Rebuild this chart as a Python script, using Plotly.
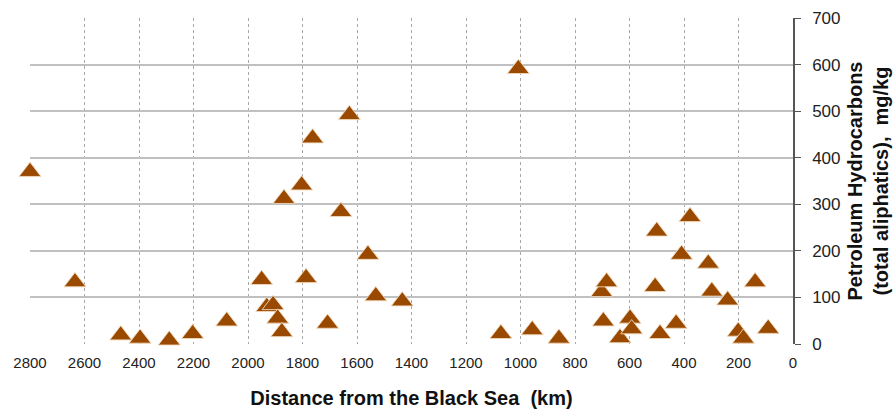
import plotly.graph_objects as go

distance_km = [2800, 2635, 2467, 2396, 2289, 2203, 2078, 1950, 1931, 1908, 1891, 1876,
               1868, 1803, 1787, 1763, 1708, 1659, 1628, 1560, 1531, 1434, 1072, 1008,
               957, 859, 702, 696, 684, 635, 598, 592, 506, 500, 488, 429, 409, 378,
               311, 298, 240, 201, 182, 139, 91]
tph_mgkg = [370, 133, 19, 12, 8, 22, 49, 138, 80, 84, 55, 26,
            312, 341, 142, 442, 44, 284, 492, 192, 103, 92, 22, 591,
            30, 12, 112, 49, 133, 13, 55, 32, 123, 242, 22, 44, 192, 273,
            173, 113, 94, 27, 12, 133, 33]

x_ticks = list(range(0, 2801, 200))
y_ticks = list(range(0, 701, 100))

fig = go.Figure()
fig.add_trace(go.Scatter(
    x=distance_km, y=tph_mgkg, mode="markers",
    marker=dict(symbol="triangle-up", size=19, color="#9A4A00",
                line=dict(color="rgba(240,215,185,0.9)", width=1)),
    cliponaxis=False, showlegend=False,
))

fig.update_layout(
    width=893, height=410,
    margin=dict(l=30, r=100, t=18, b=66),
    paper_bgcolor="white", plot_bgcolor="white",
    font=dict(family="Liberation Sans, Arial", color="#222"),
)
fig.update_xaxes(
    range=[2800, 0], tickvals=x_ticks, ticktext=[str(v) for v in x_ticks],
    automargin=False,
    showgrid=True, gridcolor="#a8a8a8", griddash="dot", gridwidth=1,
    zeroline=False, showline=False,
    ticks="", ticklabelstandoff=8, tickfont=dict(size=15, color="#222"),
    title=dict(text="<b>Distance from the Black Sea  (km)</b>", font=dict(size=20, color="#111"), standoff=20),
)
fig.update_yaxes(
    range=[0, 700], tickvals=y_ticks, side="right",
    automargin=False,
    showgrid=True, gridcolor="#c0c0c0", gridwidth=1.5,
    zeroline=False, showline=True, linecolor="#555", linewidth=1.5,
    ticks="outside", ticklen=6, tickcolor="#555", ticklabelstandoff=8,
    tickfont=dict(size=17, color="#222"),
    title=dict(text="<b>Petroleum Hydrocarbons<br>(total aliphatics),  mg/kg</b>",
               font=dict(size=20, color="#111"), standoff=8),
)

fig.write_html("out.html")
